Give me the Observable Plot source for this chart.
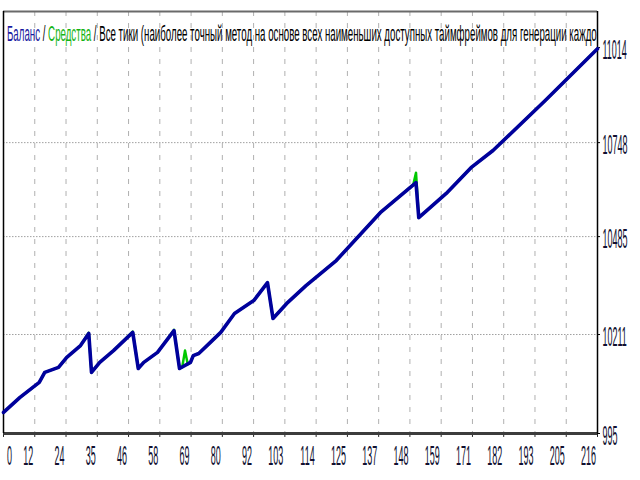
<!DOCTYPE html>
<html><head><meta charset="utf-8">
<script src="https://cdn.jsdelivr.net/npm/d3@7"></script>
<script src="https://cdn.jsdelivr.net/npm/@observablehq/plot@0.6"></script>
<style>html,body{margin:0;padding:0;background:#fff}svg{display:block}</style>
</head><body><div id="chart"></div>
<script>
// ---- data ----
const tradeNo = [0, 6, 13, 15, 20, 23, 28, 31, 32, 35, 40, 47, 49, 51, 56, 62, 64, 68, 69, 71, 74, 79, 84, 91, 96, 98, 103, 110, 121, 137, 150, 151, 161, 170, 178, 197, 216];
const balance = [9993, 10035, 10077, 10105, 10119, 10147, 10180, 10214, 10105, 10133, 10166, 10217, 10116, 10133, 10161, 10222, 10116, 10133, 10152, 10158, 10180, 10217, 10270, 10306, 10356, 10256, 10298, 10348, 10418, 10552, 10636, 10538, 10606, 10678, 10726, 10866, 11011];
const equityNo = [0, 6, 13, 15, 20, 23, 28, 31, 32, 35, 40, 47, 49, 51, 56, 62, 64, 65, 66, 67, 68, 69, 71, 74, 79, 84, 91, 96, 98, 103, 110, 121, 137, 149, 150, 151, 161, 170, 178, 197, 216];
const equity = [9993, 10035, 10077, 10105, 10119, 10147, 10180, 10216, 10105, 10133, 10166, 10219, 10116, 10133, 10161, 10224, 10116, 10120, 10166, 10128, 10133, 10152, 10158, 10180, 10217, 10270, 10306, 10356, 10256, 10298, 10348, 10418, 10552, 10630, 10664, 10538, 10606, 10678, 10726, 10866, 11011];
const xTickLabels = ["0", "12", "24", "35", "46", "58", "69", "80", "92", "103", "114", "125", "137", "148", "159", "171", "182", "193", "205", "216"];
const yTickValues = [9934, 10211, 10485, 10748, 11014];
const yTickLabels = ["995", "10211", "10485", "10748", "11014"];
const titleTexts = ["Баланс", " / ", "Средства", " / Все тики (наиболее точный метод на основе всех наименьших доступных таймфреймов для генерации каждо"];

// ---- layout / style ----
const xMax = 216;
const yDomain = [9934, 11115];
const titleColors = ["#1a1aa0", "#000000", "#14b414", "#000000"];
const font = "'Liberation Sans', Arial, sans-serif";
const xTicks = xTickLabels.map((_, i) => i * xMax / (xTickLabels.length - 1));
const balanceData = tradeNo.map((x, i) => ({x, y: balance[i]}));
const equityData = equityNo.map((x, i) => ({x, y: equity[i]}));

const plot = Plot.plot({
  width: 640, height: 480,
  marginLeft: 3, marginRight: 43, marginTop: 11, marginBottom: 47,
  style: {fontFamily: font, fontSize: "15px", background: "#fff", color: "#000", overflow: "visible"},
  x: {domain: [0, xMax], axis: null},
  y: {domain: yDomain, axis: null},
  marks: [
    Plot.ruleX(xTicks.slice(1, -1), {stroke: "#b0b0b0", strokeWidth: 1, strokeDasharray: "5,7"}),
    Plot.ruleY(yTickValues.slice(1, -1), {stroke: "#a0a0a0", strokeWidth: 1, strokeDasharray: "1.5,1.5"}),
    Plot.ruleX(xTicks, {y1: yDomain[0], y2: yDomain[0] - 11, stroke: "#202020", strokeWidth: 1}),
    Plot.ruleY(yTickValues, {x1: xMax, x2: xMax + 1.1, stroke: "#000", strokeWidth: 1}),
    Plot.ruleY([yDomain[1]], {stroke: "#6a6a6a", strokeWidth: 2}),
    Plot.ruleY([yDomain[0]], {stroke: "#3c3c3c", strokeWidth: 3}),
    Plot.ruleX([0], {stroke: "#000", strokeWidth: 1.5}),
    Plot.ruleX([xMax], {stroke: "#000", strokeWidth: 1.5}),
    Plot.line(equityData, {x: "x", y: "y", stroke: "#00c800", strokeWidth: 2.5}),
    Plot.line(balanceData, {x: "x", y: "y", stroke: "#00009c", strokeWidth: 3.6}),
    Plot.text(xTicks, {x: d => d, y: yDomain[0], text: d => xTickLabels[xTicks.indexOf(d)], textAnchor: "end", lineAnchor: "top", dx: -1.5, dy: 12, fill: "#101030"}),
    Plot.text(yTickValues, {x: xMax, y: d => d, text: d => yTickLabels[yTickValues.indexOf(d)], textAnchor: "start", dx: 5, dy: 3, fill: "#101030"})
  ]
});
document.getElementById("chart").appendChild(plot);

const svg = d3.select(plot);
// narrow, tall lettering like the terminal's font
const textGroups = svg.selectAll('g[aria-label="text"]').nodes();
textGroups.forEach((g, gi) => {
  d3.select(g).selectAll("text").each(function (d, i) {
    const t = this.getAttribute("transform") || "";
    const shift = (gi === 0 && i === 0) ? " translate(5,0)" : "";
    if (shift) this.setAttribute("text-anchor", "start");
    this.setAttribute("transform", t + shift + " scale(0.6,1.8)");
  });
});

// title inside the frame
const title = svg.append("text").attr("font-family", font).attr("font-size", 12).attr("text-anchor", "start");
titleTexts.forEach((s, i) => title.append("tspan").attr("fill", titleColors[i]).text(s));
const w = title.node().getComputedTextLength();
title.attr("transform", `translate(7,41) scale(${590 / w},1.85)`);
</script>
</body></html>
